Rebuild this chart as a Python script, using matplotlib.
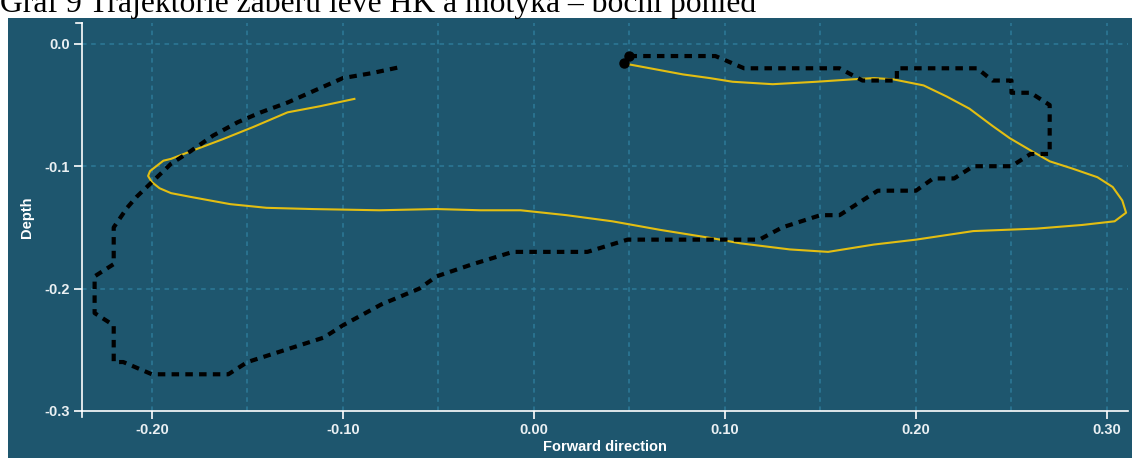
import matplotlib
matplotlib.use("Agg")
import matplotlib.pyplot as plt
from matplotlib.patches import Rectangle

# ---------------- data ----------------
title = "Graf 9 Trajektorie záběru levé HK a motyka – boční pohled"
x_label = "Forward direction"
y_label = "Depth"
x_ticks = [-0.20, -0.10, 0.00, 0.10, 0.20, 0.30]
x_tick_labels = ["-0.20", "-0.10", "0.00", "0.10", "0.20", "0.30"]
y_ticks = [0.0, -0.1, -0.2, -0.3]
y_tick_labels = ["0.0", "-0.1", "-0.2", "-0.3"]
grid_x = [-0.20, -0.15, -0.10, -0.05, 0.00, 0.05, 0.10, 0.15, 0.20, 0.25, 0.30]
grid_y = [0.0, -0.1, -0.2]

hk_x = [0.050, 0.095, 0.110, 0.160, 0.172, 0.190, 0.190, 0.232, 0.240, 0.250,
        0.250, 0.260, 0.270, 0.270, 0.260, 0.250, 0.230, 0.220, 0.209, 0.200,
        0.180, 0.160, 0.150, 0.130, 0.118, 0.049, 0.028, -0.011, -0.032, -0.051,
        -0.060, -0.080, -0.100, -0.110, -0.150, -0.160, -0.200, -0.215, -0.220, -0.220,
        -0.230, -0.230, -0.220, -0.220, -0.213, -0.208, -0.200, -0.190, -0.180, -0.168,
        -0.155, -0.143, -0.129, -0.116, -0.100, -0.085, -0.070]
hk_y = [-0.010, -0.010, -0.020, -0.020, -0.030, -0.030, -0.020, -0.020, -0.030, -0.030,
        -0.040, -0.040, -0.050, -0.090, -0.090, -0.100, -0.100, -0.110, -0.110, -0.120,
        -0.120, -0.140, -0.140, -0.150, -0.160, -0.160, -0.170, -0.170, -0.180, -0.190,
        -0.200, -0.213, -0.230, -0.240, -0.260, -0.270, -0.270, -0.260, -0.260, -0.230,
        -0.220, -0.190, -0.180, -0.150, -0.134, -0.125, -0.113, -0.098, -0.088, -0.075,
        -0.064, -0.056, -0.048, -0.039, -0.028, -0.024, -0.019]

motyka_x = [0.047, 0.078, 0.092, 0.104, 0.125, 0.148, 0.167, 0.178, 0.188, 0.204,
            0.216, 0.228, 0.240, 0.249, 0.261, 0.270, 0.282, 0.295, 0.303, 0.308,
            0.310, 0.304, 0.287, 0.263, 0.230, 0.200, 0.178, 0.154, 0.134, 0.108,
            0.094, 0.066, 0.041, 0.017, -0.007, -0.028, -0.051, -0.081, -0.116, -0.140,
            -0.159, -0.180, -0.190, -0.196, -0.200, -0.202, -0.201, -0.194, -0.190, -0.180,
            -0.163, -0.147, -0.129, -0.112, -0.094]
motyka_y = [-0.016, -0.025, -0.028, -0.031, -0.033, -0.031, -0.029, -0.028, -0.029, -0.034,
            -0.043, -0.053, -0.067, -0.077, -0.088, -0.096, -0.102, -0.109, -0.117, -0.128,
            -0.138, -0.145, -0.148, -0.151, -0.153, -0.160, -0.164, -0.170, -0.168, -0.163,
            -0.159, -0.152, -0.145, -0.140, -0.136, -0.136, -0.135, -0.136, -0.135, -0.134,
            -0.131, -0.125, -0.122, -0.118, -0.113, -0.108, -0.104, -0.0955, -0.094, -0.088,
            -0.078, -0.068, -0.056, -0.051, -0.045]

# ---------------- style ----------------
W, H = 1132, 458
BG = "#1E566E"
GRID = "#2D7A98"
YELLOW = "#E3BE12"
TICK_FONT = "Liberation Sans"

fig = plt.figure(figsize=(W / 100, H / 100), dpi=100)
fig.patch.set_facecolor("white")
fig.add_artist(Rectangle((8 / W, 0), 1 - 8 / W, (H - 18) / H,
                         transform=fig.transFigure, facecolor=BG,
                         edgecolor="none", zorder=0))

fig.text(0, (H - 12) / H, title, family="Liberation Serif", fontsize=22.8,
         ha="left", va="baseline", color="black")

ax_l, ax_r, ax_t, ax_b = 82, 1128, 23, 411
ax = fig.add_axes([ax_l / W, (H - ax_b) / H, (ax_r - ax_l) / W, (ax_b - ax_t) / H])
ax.patch.set_alpha(0)
ax.set_xlim(-0.2366, 0.311)
ax.set_ylim(-0.3, 0.017)

for gx in grid_x:
    ax.axvline(gx, color=GRID, lw=1.1, ls=(0, (3, 3)), zorder=1)
for gy in grid_y:
    ax.axhline(gy, color=GRID, lw=1.1, ls=(0, (3, 3)), zorder=1)

ax.plot(motyka_x, motyka_y, color=YELLOW, lw=1.5, zorder=3,
        solid_joinstyle="round")
ax.plot(hk_x, hk_y, color="black", lw=3.0, dashes=(1.8, 1.5), zorder=4)
ax.plot([hk_x[0]], [hk_y[0]], "o", color="black", ms=6.5, zorder=5)
ax.plot([motyka_x[0]], [motyka_y[0]], "o", color="black", ms=6.5, zorder=5)

for s in ["top", "right"]:
    ax.spines[s].set_visible(False)
for s in ["left", "bottom"]:
    ax.spines[s].set_color("white")
    ax.spines[s].set_linewidth(1.2)

ax.set_xticks(x_ticks)
ax.set_xticklabels(x_tick_labels)
ax.set_yticks(y_ticks)
ax.set_yticklabels(y_tick_labels)
ax.tick_params(colors="white", length=6, width=1.2, direction="out", pad=3)
for lab in ax.get_xticklabels() + ax.get_yticklabels():
    lab.set_family(TICK_FONT)
    lab.set_fontsize(10.5)
    lab.set_fontweight("bold")
    lab.set_color("#EAF0F3")

# outer ticks of the axis domain
axw = ax_r - ax_l
axh = ax_b - ax_t
ax.plot([-6 / axw, 0], [1, 1], transform=ax.transAxes, color="white", lw=1.2,
        clip_on=False)
ax.plot([0, 0], [0, -6 / axh], transform=ax.transAxes, color="white", lw=1.2,
        clip_on=False)

ax.set_xlabel(x_label, family=TICK_FONT, fontsize=10.5, fontweight="bold",
              color="white")
ax.xaxis.set_label_coords(0.5, -(447 - ax_b) / axh, transform=ax.transAxes)
ax.xaxis.label.set_va("center")
ax.set_ylabel(y_label, family=TICK_FONT, fontsize=10.5, fontweight="bold",
              color="white")
ax.yaxis.set_label_coords(-(ax_l - 27) / axw, 0.5, transform=ax.transAxes)
ax.yaxis.label.set_va("center")

fig.savefig("out.png", dpi=100, facecolor=fig.get_facecolor())
